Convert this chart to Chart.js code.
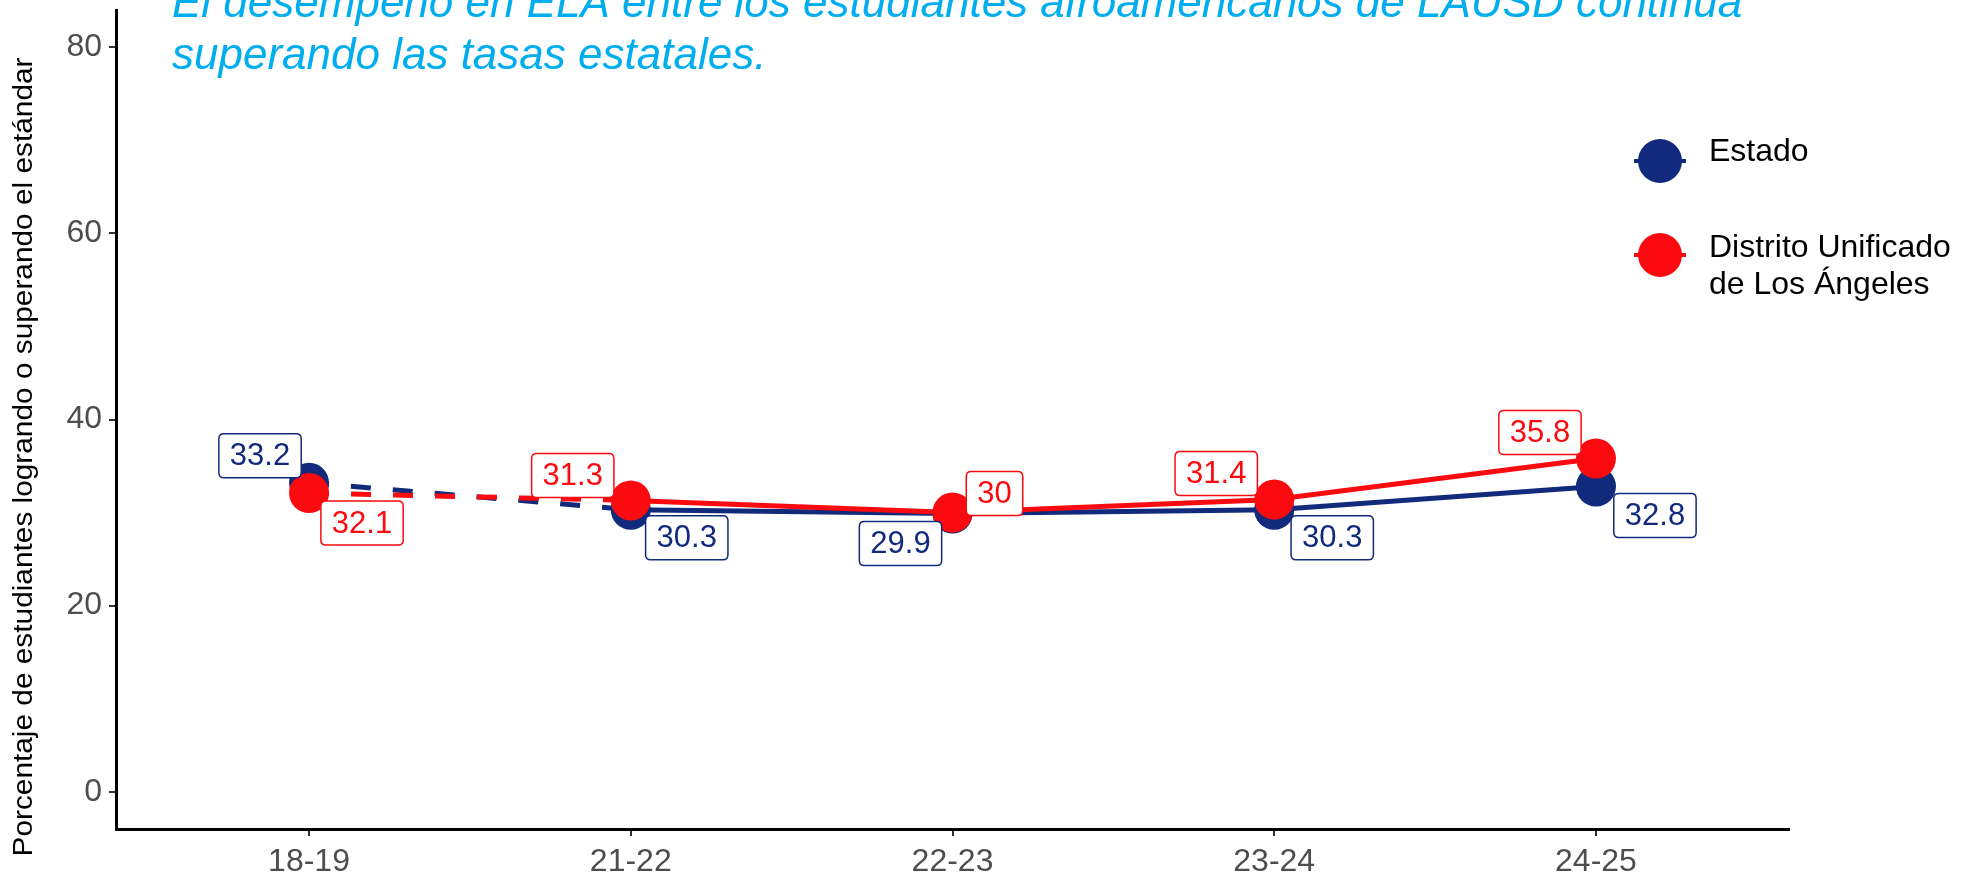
<!DOCTYPE html>
<html><head><meta charset="utf-8">
<script src="https://cdn.jsdelivr.net/npm/chart.js@4"></script>
<style>html,body{margin:0;padding:0;background:#fff}#wrap{width:1973px;height:872px;position:relative}</style>
</head><body><div id="wrap"><canvas id="c" width="1973" height="872"></canvas></div>
<script>
const categories = ['18-19','21-22','22-23','23-24','24-25'];
const estado = [33.2, 30.3, 29.9, 30.3, 32.8];
const lausd = [32.1, 31.3, 30, 31.4, 35.8];
const yTicks = [0, 20, 40, 60, 80];
const seriesNames = ['Estado', 'Distrito Unificado\nde Los Ángeles'];
const titleLines = ['El desempeño en ELA entre los estudiantes afroamericanos de LAUSD continúa', 'superando las tasas estatales.'];
const yTitle = 'Porcentaje de estudiantes logrando o superando el estándar';

const BLUE = '#112a7c', RED = '#fb0a0f', TITLE_C = '#00aeef';
const FONT = '"Liberation Sans", Arial, sans-serif';
// label offsets (pixels from the point), style only
const estadoOff = [[-49,-27],[56,28],[-52,30],[58,28],[59,29]];
const lausdOff = [[53,30],[-58,-25],[42,-19],[-58,-26],[-56,-26]];

function pts(arr){ return arr.map((v,i)=>({x:i+1, y:v})); }
const dashFirst = ctx => ctx.p0DataIndex === 0 ? [20,22] : undefined;

function roundRect(ctx,x,y,w,h,r){
  ctx.beginPath();
  ctx.moveTo(x+r,y); ctx.lineTo(x+w-r,y); ctx.quadraticCurveTo(x+w,y,x+w,y+r);
  ctx.lineTo(x+w,y+h-r); ctx.quadraticCurveTo(x+w,y+h,x+w-r,y+h);
  ctx.lineTo(x+r,y+h); ctx.quadraticCurveTo(x,y+h,x,y+h-r);
  ctx.lineTo(x,y+r); ctx.quadraticCurveTo(x,y,x+r,y); ctx.closePath();
}

const overlay = {
  id:'overlay',
  afterDatasetsDraw(chart){
    const ctx = chart.ctx;
    const sets = [[1, estado, estadoOff, BLUE],[0, lausd, lausdOff, RED]];
    ctx.save();
    ctx.font = '31px ' + FONT;
    ctx.textAlign = 'center'; ctx.textBaseline = 'middle';
    for (const [di, vals, offs, col] of sets){
      const meta = chart.getDatasetMeta(di);
      vals.forEach((v,i)=>{
        const el = meta.data[i];
        const cx = el.x + offs[i][0], cy = el.y + offs[i][1];
        const label = String(v);
        const w = ctx.measureText(label).width + 22, h = 44;
        roundRect(ctx, cx-w/2, cy-h/2, w, h, 5);
        ctx.fillStyle = '#fff'; ctx.fill();
        ctx.lineWidth = 1.5; ctx.strokeStyle = col; ctx.stroke();
        ctx.fillStyle = col; ctx.fillText(label, cx, cy+1);
      });
    }
    ctx.restore();
  },
  afterDraw(chart){
    const ctx = chart.ctx;
    ctx.save();
    // title
    ctx.fillStyle = TITLE_C; ctx.textAlign = 'left'; ctx.textBaseline = 'alphabetic';
    ctx.font = 'italic 44px ' + FONT;
    ctx.fillText(titleLines[0], 172, 17);
    ctx.fillText(titleLines[1], 172, 69);
    // y title
    ctx.save();
    ctx.translate(25, 457); ctx.rotate(-Math.PI/2);
    ctx.font = '27px ' + FONT; ctx.fillStyle = '#000'; ctx.textAlign='center'; ctx.textBaseline='middle';
    const mw = ctx.measureText(yTitle).width;
    ctx.scale(799/mw, 1);
    ctx.fillText(yTitle, 0, 0);
    ctx.restore();
    // legend
    const items = [[BLUE, seriesNames[0], 161],[RED, seriesNames[1], 255]];
    for (const [col, name, cy] of items){
      ctx.strokeStyle = col; ctx.lineWidth = 4;
      ctx.beginPath(); ctx.moveTo(1634, cy); ctx.lineTo(1686, cy); ctx.stroke();
      ctx.fillStyle = col; ctx.beginPath(); ctx.arc(1660, cy, 22, 0, Math.PI*2); ctx.fill();
      ctx.fillStyle = '#000'; ctx.font = '32px ' + FONT; ctx.textAlign='left'; ctx.textBaseline='alphabetic';
      const lines = name.split('\n');
      lines.forEach((ln, k)=> ctx.fillText(ln, 1709, cy + (lines.length>1 ? 2 : 0) + k*37));
    }
    ctx.restore();
  }
};

const noPad = s => { s.paddingTop = 0; s.paddingBottom = 0; s.paddingLeft = 0; s.paddingRight = 0; };

new Chart(document.getElementById('c'), {
  type:'line',
  data:{ datasets:[
    { label: seriesNames[1], data: pts(lausd), borderColor: RED, backgroundColor: RED, borderWidth: 5,
      pointRadius: 20, pointBorderWidth: 0, pointBackgroundColor: RED, segment:{ borderDash: dashFirst } },
    { label: seriesNames[0], data: pts(estado), borderColor: BLUE, backgroundColor: BLUE, borderWidth: 5,
      pointRadius: 20, pointBorderWidth: 0, pointBackgroundColor: BLUE, segment:{ borderDash: dashFirst } }
  ]},
  options:{
    responsive:false, animation:false, devicePixelRatio:1,
    layout:{ autoPadding:false, padding:{ top:10, right:184, left:0, bottom:0 } },
    plugins:{ legend:{display:false}, tooltip:{enabled:false} },
    scales:{
      x:{ type:'linear', min:0.4, max:5.6,
        afterBuildTicks: s => { s.ticks = categories.map((_,i)=>({value:i+1})); },
        afterFit: s => { s.height = 43; noPad(s); },
        ticks:{ callback: v => categories[v-1], font:{size:32, family:FONT}, color:'#4d4d4d', padding:7, maxRotation:0, autoSkip:false },
        grid:{ display:true, drawOnChartArea:false, drawTicks:true, tickLength:7, color:'#333', lineWidth:2 },
        border:{ display:true, color:'#000', width:3 } },
      y:{ type:'linear', min:-4, max:84,
        afterBuildTicks: s => { s.ticks = yTicks.map(v=>({value:v})); },
        afterFit: s => { s.width = 116; noPad(s); },
        ticks:{ font:{size:32, family:FONT}, color:'#4d4d4d', padding:7 },
        grid:{ display:true, drawOnChartArea:false, drawTicks:true, tickLength:7, color:'#333', lineWidth:2 },
        border:{ display:true, color:'#000', width:3 } }
    }
  },
  plugins:[overlay]
});
</script></body></html>
